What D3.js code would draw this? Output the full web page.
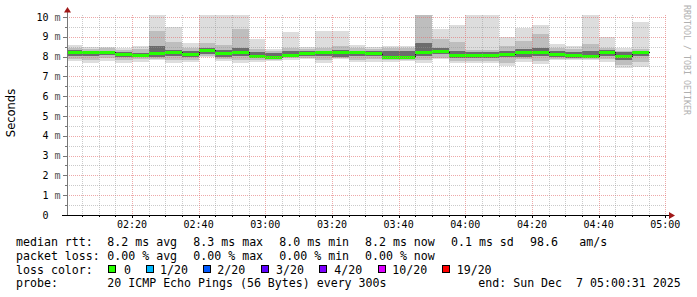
<!DOCTYPE html>
<html><head><meta charset="utf-8">
<script src="https://cdn.jsdelivr.net/npm/d3@7"></script>
<style>body{margin:0;background:#fff}svg{display:block}text{white-space:pre}</style>
</head><body><svg id="c" width="697" height="297"></svg>
<script>
// ---- data (ms) ----
const binLabels = ["02:00","02:05","02:10","02:15","02:20","02:25","02:30","02:35","02:40","02:45",
  "02:50","02:55","03:00","03:05","03:10","03:15","03:20","03:25","03:30","03:35",
  "03:40","03:45","03:50","03:55","04:00","04:05","04:10","04:15","04:20","04:25",
  "04:30","04:35","04:40","04:45","04:50"];
const pingMax = [8.59,8.47,8.50,8.42,8.54,10.6,9.48,8.67,10.4,10.3,10.5,8.87,8.40,9.25,8.50,9.29,9.29,8.59,8.50,8.54,8.54,10.8,9.39,9.60,10.4,10.4,8.97,9.43,9.60,8.64,8.54,10.4,8.97,8.42,9.75];
const pingHi2 = [8.45,8.40,8.42,8.35,8.38,9.31,8.75,8.45,8.70,8.59,9.39,8.40,8.30,8.45,8.38,8.45,8.54,8.42,8.40,8.42,8.42,10.3,8.89,8.75,8.35,8.35,8.54,8.79,9.14,8.45,8.40,8.64,8.45,8.30,8.40];
const pingHi  = [8.32,8.30,8.30,8.25,8.20,8.55,8.35,8.30,8.45,8.35,8.45,8.25,8.20,8.28,8.28,8.30,8.35,8.30,8.30,8.30,8.30,8.67,8.45,8.30,8.22,8.22,8.30,8.40,8.45,8.30,8.25,8.30,8.32,8.22,8.30];
const medianRtt = [8.22,8.22,8.22,8.15,8.10,8.17,8.22,8.15,8.31,8.16,8.23,8.01,7.98,8.08,8.16,8.23,8.22,8.22,8.19,7.98,7.98,8.23,8.30,8.10,8.06,8.10,8.13,8.23,8.23,8.13,8.10,8.02,8.22,8.01,8.22];
const pingLo  = [8.05,8.05,8.08,8.00,7.98,7.98,8.05,8.00,8.15,8.00,8.05,7.92,7.90,7.98,8.02,8.05,7.98,8.05,8.05,7.90,7.90,8.05,8.15,7.95,7.95,7.95,7.98,8.00,8.02,8.00,7.93,7.95,8.05,7.85,8.05];
const pingLo2 = [7.90,7.85,7.92,7.85,7.88,7.90,7.85,7.85,8.02,7.88,7.85,7.82,7.83,7.92,7.92,7.85,7.92,7.85,7.88,7.82,7.84,7.85,7.95,7.80,7.80,7.80,7.70,7.88,7.80,7.90,7.88,7.88,7.90,7.60,7.75];
const pingMin = [7.79,7.69,7.79,7.69,7.74,7.83,7.69,7.74,7.96,7.79,7.69,7.74,7.78,7.85,7.86,7.69,7.86,7.74,7.74,7.74,7.79,7.69,7.86,7.66,7.69,7.66,7.52,7.74,7.61,7.83,7.83,7.83,7.74,7.44,7.49];
const yTicks = [0,1,2,3,4,5,6,7,8,9,10];
const xTickLabels = ["02:20","02:40","03:00","03:20","03:40","04:00","04:20","04:40","05:00"];
const statMedian = ["8.2 ms avg","8.3 ms max","8.0 ms min","8.2 ms now","0.1 ms sd","98.6","am/s"];
const statLoss = ["0.00 % avg","0.00 % max","0.00 % min","0.00 % now"];
const lossLabels = ["0","1/20","2/20","3/20","4/20","10/20","19/20"];
const lossColors = ["#26ff00","#00b8ff","#0059ff","#5e00ff","#7e00ff","#dd00ff","#ff0000"];
const probeText = "20 ICMP Echo Pings (56 Bytes) every 300s";
const endText = "end: Sun Dec  7 05:00:31 2025";

// ---- layout ----
const svg = d3.select("#c");
const L = 67, R = 667, T = 15, B = 215;
const day = "2025-12-07T";
const pt = s => new Date(day + s + ":00Z");
const x = d3.scaleUtc().domain([new Date(day+"02:00:31Z"), new Date(day+"05:00:31Z")]).range([L, R]);
const y = d3.scaleLinear().domain([0, 10.1]).range([B, T]);
const mono = "DejaVu Sans Mono";

svg.append("defs").append("clipPath").attr("id","pc")
  .append("rect").attr("x",L).attr("y",T).attr("width",R-L).attr("height",B-T);
const plot = svg.append("g").attr("clip-path","url(#pc)").attr("shape-rendering","crispEdges");

const bins = binLabels.map((b,i)=>({t0:pt(b), t1:new Date(pt(b).getTime()+300000), i}));
function band(lo, hi, color){
  plot.append("g").selectAll("rect").data(bins).join("rect")
    .attr("x", d=>Math.round(x(d.t0)))
    .attr("width", d=>Math.round(x(d.t1))-Math.round(x(d.t0)))
    .attr("y", d=>Math.round(y(hi[d.i])))
    .attr("height", d=>Math.max(1, Math.round(y(lo[d.i]))-Math.round(y(hi[d.i]))))
    .attr("fill", color);
}
band(pingMin, pingMax, "#dddddd");
band(pingLo2, pingHi2, "#bebebe");
band(pingLo, pingHi, "#6c6c6c");

// median connectors
const stepPts = [];
bins.forEach(d=>{ stepPts.push([x(d.t0), y(medianRtt[d.i])]); stepPts.push([x(d.t1), y(medianRtt[d.i])]); });
plot.append("path").attr("d", d3.line()(stepPts.map(p=>[Math.round(p[0])+0.5, Math.round(p[1])+0.5])))
  .attr("fill","none").attr("stroke","#1a1a1a").attr("stroke-width",1);
// median (loss colour)
plot.append("g").selectAll("rect").data(bins).join("rect")
  .attr("x", d=>Math.round(x(d.t0)))
  .attr("width", d=>Math.round(x(d.t1))-Math.round(x(d.t0)))
  .attr("y", d=>Math.round(y(medianRtt[d.i]))-1)
  .attr("height", 3)
  .attr("fill", lossColors[0]);

// ---- grid (on top) ----
const grid = svg.append("g").attr("shape-rendering","crispEdges");
const halfSteps = d3.range(1,21).map(v=>v/2);
halfSteps.forEach(v=>{
  const major = Number.isInteger(v);
  grid.append("line").attr("x1",L).attr("x2",R).attr("y1",Math.round(y(v))+0.5).attr("y2",Math.round(y(v))+0.5)
    .attr("stroke", major ? "rgba(225,110,110,0.6)" : "rgba(150,150,150,0.5)")
    .attr("stroke-dasharray","1,1");
});
const minorTimes = d3.utcMinute.every(5).range(new Date(day+"02:01:00Z"), new Date(day+"05:00:31Z"));
minorTimes.forEach(t=>{
  const major = t.getUTCMinutes() % 20 === 0;
  const xx = Math.round(x(t))+0.5;
  grid.append("line").attr("x1",xx).attr("x2",xx).attr("y1",T).attr("y2",B)
    .attr("stroke", major ? "rgba(225,110,110,0.6)" : "rgba(150,150,150,0.5)")
    .attr("stroke-dasharray","1,1");
  grid.append("line").attr("x1",xx).attr("x2",xx).attr("y1",B).attr("y2",B+(major?3:2))
    .attr("stroke","#000");
});

// ---- axes ----
const ax = svg.append("g").attr("shape-rendering","crispEdges");
halfSteps.concat([0]).forEach(v=>{
  const yy = Math.round(y(v))+0.5;
  ax.append("line").attr("x1", Number.isInteger(v)?63:65).attr("x2",L).attr("y1",yy).attr("y2",yy).attr("stroke","#777");
});
ax.append("line").attr("x1",L+0.5).attr("x2",L+0.5).attr("y1",B).attr("y2",11).attr("stroke","#777");
ax.append("line").attr("x1",62).attr("x2",671).attr("y1",B+0.5).attr("y2",B+0.5).attr("stroke","#000");
svg.append("path").attr("d",`M${L-3},${12.5}L${L+0.5},${7}L${L+4},${12.5}Z`).attr("fill","#a01818");
svg.append("path").attr("d",`M669,212L675,215.5L669,219Z`).attr("fill","#a01818");

// y labels
const yl = svg.append("g").attr("font-family",mono).attr("font-size",10);
yTicks.forEach(v=>{
  const yy = y(v)+3.7;
  yl.append("text").attr("x",48.5).attr("y",yy).attr("text-anchor","end").attr("fill","#000").text(String(v));
  if (v>0) yl.append("text").attr("x",54.5).attr("y",yy).attr("fill","#555").text("m");
});
// x labels
const xl = svg.append("g").attr("font-family",mono).attr("font-size",10);
xTickLabels.forEach(s=>{
  xl.append("text").attr("x",x(pt(s))).attr("y",227.5).attr("text-anchor","middle").text(s);
});
// axis title
svg.append("text").attr("transform","translate(15,113) rotate(-90)").attr("text-anchor","middle")
  .attr("font-family","DejaVu Sans").attr("font-size",11.5).text("Seconds");
// watermark
svg.append("text").attr("transform","translate(683.5,5) rotate(90)")
  .attr("font-family",mono).attr("font-size",8.3).attr("fill","#b0b0b0").text("RRDTOOL / TOBI OETIKER");

// ---- legend ----
const lg = svg.append("g").attr("font-family",mono).attr("font-size",11.6).attr("fill","#000");
const t = (xx,yy,s)=>lg.append("text").attr("x",xx).attr("y",yy).text(s);
t(16,245.5,"median rtt:");
[107.3,193.3,279.3,365,451,530,579.3].forEach((xx,i)=>t(xx,245.5,statMedian[i]));
t(16,259.5,"packet loss:");
[107.3,193.3,279.3,365].forEach((xx,i)=>t(xx,259.5,statLoss[i]));
t(16,273.5,"loss color:");
const boxX = [108.5,146,203.5,261.5,319.5,378,442.5];
const labX = [124,160,217.3,276,334.3,392.3,456.7];
lossLabels.forEach((s,i)=>{
  lg.append("rect").attr("x",boxX[i]).attr("y",265.5).attr("width",7).attr("height",7)
    .attr("fill",lossColors[i]).attr("stroke","#000").attr("stroke-width",1).attr("shape-rendering","crispEdges");
  t(labX[i],273.5,s);
});
t(16,287,"probe:");
t(107.3,287,probeText);
t(478.3,287,endText);
</script></body></html>
